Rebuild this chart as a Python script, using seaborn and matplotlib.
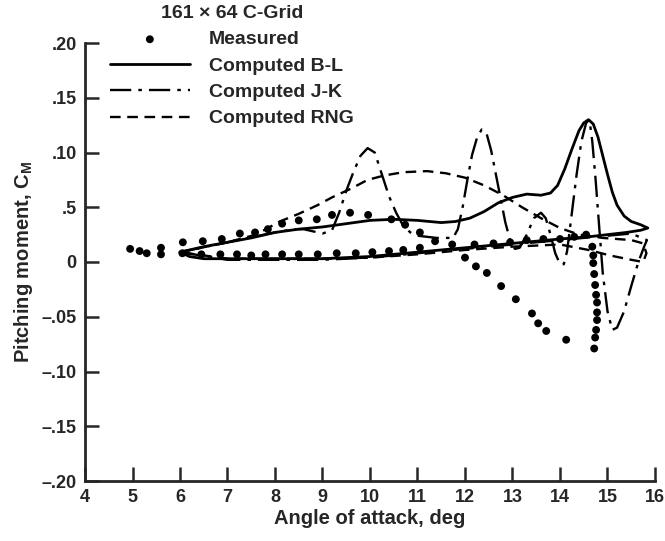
import matplotlib
matplotlib.use("Agg")
import matplotlib.pyplot as plt
import seaborn as sns

# Measured pitching moment (hysteresis loop)
meas_alpha = [4.95, 5.15, 5.3, 5.6, 5.6,
              6.05, 6.45, 6.85, 7.2, 7.5, 7.8, 8.15, 8.5, 8.9, 9.3, 9.7, 10.05, 10.4, 10.7, 11.05,
              11.37, 11.73, 12.2, 12.6, 12.95, 13.3, 13.65, 14.0, 14.3, 14.55,
              14.68, 14.7, 14.7, 14.72, 14.74, 14.76, 14.78, 14.78, 14.78, 14.76, 14.74, 14.72,
              14.13, 13.71, 13.54, 13.41, 13.07, 12.76, 12.46, 12.23, 12.0,
              11.05, 10.74, 10.45, 9.96, 9.58, 9.2, 8.88, 8.5, 8.15, 7.85, 7.58, 7.26, 6.88, 6.48, 6.06]
meas_cm = [0.012, 0.010, 0.008, 0.013, 0.007,
           0.008, 0.007, 0.007, 0.007, 0.006, 0.007, 0.007, 0.007, 0.007, 0.008, 0.008, 0.009, 0.010, 0.011, 0.013,
           0.019, 0.016, 0.016, 0.017, 0.018, 0.020, 0.021, 0.021, 0.023, 0.025,
           0.014, 0.006, -0.001, -0.011, -0.021, -0.030, -0.037, -0.046, -0.053, -0.062, -0.069, -0.079,
           -0.071, -0.063, -0.056, -0.047, -0.034, -0.022, -0.010, -0.004, 0.004,
           0.027, 0.034, 0.039, 0.043, 0.045, 0.043, 0.039, 0.038, 0.035, 0.030, 0.027, 0.026, 0.021, 0.019, 0.018]

# Computed B-L
bl_alpha = [6.0, 6.5, 7.0, 7.5, 8.0, 8.5, 9.0, 9.5, 10.0, 10.5, 11.0, 11.5, 11.8, 12.1, 12.4, 12.7,
            13.0, 13.3, 13.6, 13.8, 13.95, 14.1, 14.25, 14.4, 14.5, 14.6, 14.7, 14.8, 14.9, 15.0,
            15.1, 15.2, 15.35, 15.5, 15.7, 15.85, 15.7, 15.4, 15.0, 14.6, 14.0, 13.0, 12.0, 11.0,
            10.0, 9.0, 8.0, 7.0, 6.5, 6.2, 6.0]
bl_cm = [0.009, 0.014, 0.018, 0.022, 0.027, 0.030, 0.032, 0.035, 0.038, 0.039, 0.038, 0.036, 0.037, 0.040, 0.046, 0.054,
         0.059, 0.062, 0.061, 0.063, 0.070, 0.085, 0.103, 0.120, 0.127, 0.130, 0.126, 0.114, 0.097, 0.080,
         0.064, 0.052, 0.042, 0.037, 0.034, 0.031, 0.029, 0.027, 0.025, 0.023, 0.021, 0.017, 0.013, 0.009,
         0.005, 0.003, 0.003, 0.003, 0.003, 0.005, 0.009]

# Computed J-K
jk_alpha = [6.0, 7.0, 8.0, 8.4, 8.6, 8.8, 9.0, 9.2, 9.35, 9.5, 9.65, 9.8, 9.95, 10.1, 10.25, 10.4,
            10.55, 10.7, 10.85, 11.0, 11.4, 11.75, 11.85, 11.95, 12.05, 12.15, 12.25, 12.35, 12.45,
            12.55, 12.65, 12.75, 12.85, 12.95, 13.05, 13.15, 13.3, 13.45, 13.6, 13.7, 13.8, 13.9,
            14.0, 14.08, 14.15, 14.25, 14.35, 14.45, 14.55, 14.62, 14.68, 14.75, 14.82, 14.9, 15.0,
            15.1, 15.2, 15.35, 15.5, 15.65, 15.78, 15.83, 15.5, 15.0, 14.0, 13.0, 12.0, 11.0, 10.0,
            9.0, 8.0, 7.0, 6.0]
jk_cm = [0.009, 0.018, 0.027, 0.030, 0.030, 0.028, 0.026, 0.029, 0.045, 0.065, 0.082, 0.097, 0.104, 0.100, 0.080, 0.060,
         0.045, 0.033, 0.027, 0.024, 0.022, 0.022, 0.030, 0.050, 0.075, 0.098, 0.113, 0.121, 0.118,
         0.102, 0.080, 0.058, 0.036, 0.020, 0.012, 0.013, 0.025, 0.040, 0.045, 0.040, 0.025, 0.008,
         -0.002, -0.002, 0.010, 0.045, 0.080, 0.110, 0.127, 0.130, 0.110, 0.075, 0.035, -0.010, -0.045,
         -0.062, -0.060, -0.045, -0.022, 0.000, 0.015, 0.020, 0.026, 0.024, 0.020, 0.016, 0.012, 0.008, 0.004,
         0.002, 0.002, 0.002, 0.009]

# Computed RNG
rng_alpha = [6.0, 7.0, 7.6, 8.1, 8.5, 8.9, 9.2, 9.6, 9.95, 10.3, 10.7, 11.2, 11.6, 12.0, 12.4, 12.8,
             13.2, 13.6, 14.0, 14.4, 14.9, 15.5, 15.75, 15.82, 15.75, 15.5, 15.05, 14.6, 14.0, 13.0,
             12.0, 11.0, 10.0, 9.0, 8.0, 7.0, 6.0]
rng_cm = [0.009, 0.018, 0.025, 0.037, 0.044, 0.052, 0.059, 0.067, 0.075, 0.079, 0.082, 0.083, 0.081, 0.077, 0.070, 0.061,
          0.050, 0.040, 0.031, 0.025, 0.022, 0.020, 0.017, 0.008, 0.000, 0.002, 0.006, 0.011, 0.016, 0.014,
          0.011, 0.007, 0.004, 0.003, 0.003, 0.003, 0.009]

y_ticks = [0.20, 0.15, 0.10, 0.05, 0.0, -0.05, -0.10, -0.15, -0.20]
y_ticklabels = ['.20', '.15', '.10', '.5', '0', '\u2013.05', '\u2013.10', '\u2013.15', '\u2013.20']
x_ticks = list(range(4, 17))

sns.set_style("ticks")
plt.rcParams['font.family'] = ['Liberation Sans', 'DejaVu Sans']
plt.rcParams['font.weight'] = 'bold'
plt.rcParams['mathtext.fontset'] = 'custom'
plt.rcParams['mathtext.rm'] = 'Liberation Sans:bold'
plt.rcParams['mathtext.default'] = 'rm'

fig = plt.figure(figsize=(6.65, 5.41), dpi=100)
ax = fig.add_axes([85 / 665, 1 - 481 / 541, 570 / 665, 438 / 541])

sns.scatterplot(x=meas_alpha, y=meas_cm, color='black', s=32, edgecolor='none',
                label='Measured', ax=ax, zorder=3)
sns.lineplot(x=bl_alpha, y=bl_cm, sort=False, estimator=None, color='black', lw=2.0,
             label='Computed B-L', ax=ax)
sns.lineplot(x=jk_alpha, y=jk_cm, sort=False, estimator=None, color='black', lw=1.7,
             linestyle=(0, (9, 3, 1.5, 3)), label='Computed J-K', ax=ax)
sns.lineplot(x=rng_alpha, y=rng_cm, sort=False, estimator=None, color='black', lw=1.7,
             linestyle=(0, (4.5, 2.8)), label='Computed RNG', ax=ax)

ax.set_xlim(4, 16)
ax.set_ylim(-0.20, 0.20)
ax.set_xticks(x_ticks)
ax.set_yticks(y_ticks)
ax.set_yticklabels(y_ticklabels)
ax.tick_params(direction='in', length=10, width=1.8, labelsize=13, pad=6)
for lab in ax.get_xticklabels() + ax.get_yticklabels():
    lab.set_fontweight('bold')
sns.despine(ax=ax)
ax.spines['left'].set_linewidth(2.0)
ax.spines['bottom'].set_linewidth(2.0)

ax.set_xlabel('Angle of attack, deg', fontsize=14.5, fontweight='bold', labelpad=2)
ax.set_ylabel('Pitching moment, C$_{M}$', fontsize=14.5, fontweight='bold', labelpad=5)

handles, labels = ax.get_legend_handles_labels()
ax.get_legend().remove()
leg = fig.legend(handles, labels, title='161 \u00d7 64 C-Grid', loc='upper left',
                 bbox_to_anchor=(110 / 665, 1 - 5 / 541), frameon=False, borderpad=0,
                 borderaxespad=0, handlelength=4.1, handletextpad=1.0, labelspacing=0.45,
                 scatterpoints=1, prop={'size': 14, 'weight': 'bold'},
                 title_fontproperties={'size': 14, 'weight': 'bold'})

fig.savefig('out.png', dpi=100)
